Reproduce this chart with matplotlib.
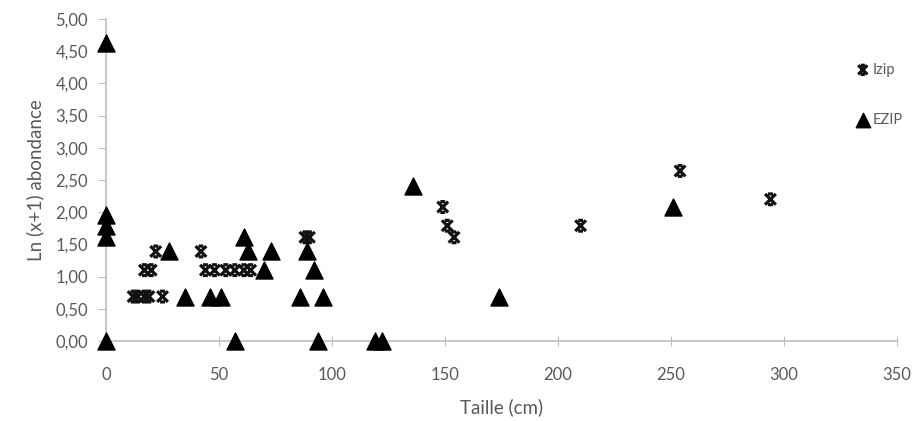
import matplotlib
matplotlib.use("Agg")
import matplotlib.pyplot as plt
from matplotlib.path import Path
from matplotlib.ticker import FuncFormatter, MultipleLocator

# Izip series (taille en cm, ln(x+1) abondance)
izip_x = [12, 14, 17, 19, 25, 17, 20, 44, 48, 53, 57, 61, 64, 22, 42, 88, 90,
          149, 151, 154, 210, 254, 294]
izip_y = [0.69, 0.69, 0.69, 0.69, 0.69, 1.10, 1.10, 1.10, 1.10, 1.10, 1.10, 1.10, 1.10,
          1.39, 1.39, 1.61, 1.61, 2.08, 1.79, 1.61, 1.79, 2.64, 2.20]

# EZIP series
ezip_x = [0, 0, 0, 0, 0, 28, 35, 46, 51, 57, 61, 63, 70, 73, 86, 89, 92, 96, 94,
          119, 122, 136, 174, 251]
ezip_y = [4.62, 1.95, 1.79, 1.61, 0.00, 1.39, 0.69, 0.69, 0.69, 0.00, 1.61, 1.39, 1.10,
          1.39, 0.69, 1.39, 1.10, 0.69, 0.00, 0.00, 0.00, 2.40, 0.69, 2.08]

grey = "#595959"
axis_grey = "#bfbfbf"

# Excel-like "X" marker with small caps top and bottom
star_x = Path(
    [(-1, -1), (1, 1), (-1, 1), (1, -1), (-0.45, 1), (0.45, 1), (-0.45, -1), (0.45, -1)],
    [Path.MOVETO, Path.LINETO, Path.MOVETO, Path.LINETO,
     Path.MOVETO, Path.LINETO, Path.MOVETO, Path.LINETO],
)

plt.rcParams["font.family"] = ["Lato", "DejaVu Sans"]

fig = plt.figure(figsize=(9.17, 4.21), dpi=100)
ax = fig.add_axes([0.1156, 0.190, 0.8626, 0.765])

ax.scatter(izip_x, izip_y, marker=star_x, s=60, facecolors="none",
           edgecolors="#111111", linewidths=2.3, label="Izip", zorder=3, clip_on=False)
ax.scatter(ezip_x, ezip_y, marker="^", s=150, color="black",
           label="EZIP", zorder=4, clip_on=False)

ax.set_xlim(0, 350)
ax.set_ylim(0, 5)
ax.xaxis.set_major_locator(MultipleLocator(50))
ax.yaxis.set_major_locator(MultipleLocator(0.5))
ax.yaxis.set_major_formatter(FuncFormatter(lambda v, p: f"{v:.2f}".replace(".", ",")))

for side in ["top", "right"]:
    ax.spines[side].set_visible(False)
for side in ["left", "bottom"]:
    ax.spines[side].set_color(axis_grey)
    ax.spines[side].set_linewidth(1.2)

ax.tick_params(axis="y", direction="out", length=6, color=axis_grey,
               labelcolor=grey, labelsize=12, pad=7)
ax.tick_params(axis="x", direction="inout", length=7, color=axis_grey,
               labelcolor=grey, labelsize=12, pad=15)

ax.set_xlabel("Taille (cm)", color=grey, fontsize=13.5, labelpad=11)
ax.set_ylabel("Ln (x+1) abondance", color=grey, fontsize=13.5, labelpad=8)

fig.legend(loc="upper left", bbox_to_anchor=(0.925, 0.865), frameon=False,
           fontsize=10.5, labelcolor=grey, labelspacing=2.5, handletextpad=0.1,
           markerscale=0.85, borderaxespad=0, handlelength=1.2)

fig.savefig("out.png", dpi=100)
